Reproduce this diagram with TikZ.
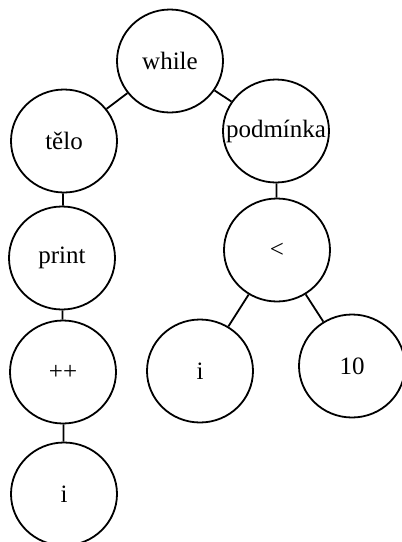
\documentclass[tikz,border=0pt]{standalone}
\usepackage{fontspec}
\setmainfont{Liberation Serif}
\usetikzlibrary{shapes.geometric}
\begin{document}
\begin{tikzpicture}[x=1pt,y=-1pt,
  tn/.style={ellipse,draw,line width=1.8pt,minimum width=106pt,minimum height=103pt,
             inner sep=0pt,font=\fontsize{25}{25}\selectfont},
  edge/.style={line width=1.8pt}]
\useasboundingbox (0,0) rectangle (402,542);
% syntax tree nodes
\node[tn] (while) at (170,61)  {\makebox[0pt]{while}};
\node[tn] (telo)  at (64,141)  {\makebox[0pt]{tělo}};
\node[tn] (podm)  at (276,131) {\makebox[0pt]{podmínka}};
\node[tn] (print) at (62,258)  {\makebox[0pt]{print}};
\node[tn] (lt)    at (277,250) {\makebox[0pt]{<}};
\node[tn] (inc)   at (63,372)  {\makebox[0pt]{++}};
\node[tn] (ia)    at (200,371) {\makebox[0pt]{i}};
\node[tn] (ten)   at (352,366) {\makebox[0pt]{10}};
\node[tn] (ib)    at (64,494)  {\makebox[0pt]{i}};
% edges
\draw[edge] (while) -- (telo);
\draw[edge] (while) -- (podm);
\draw[edge] (telo) -- (print);
\draw[edge] (print) -- (inc);
\draw[edge] (inc) -- (ib);
\draw[edge] (podm) -- (lt);
\draw[edge] (lt) -- (ia);
\draw[edge] (lt) -- (ten);
\end{tikzpicture}
\end{document}
